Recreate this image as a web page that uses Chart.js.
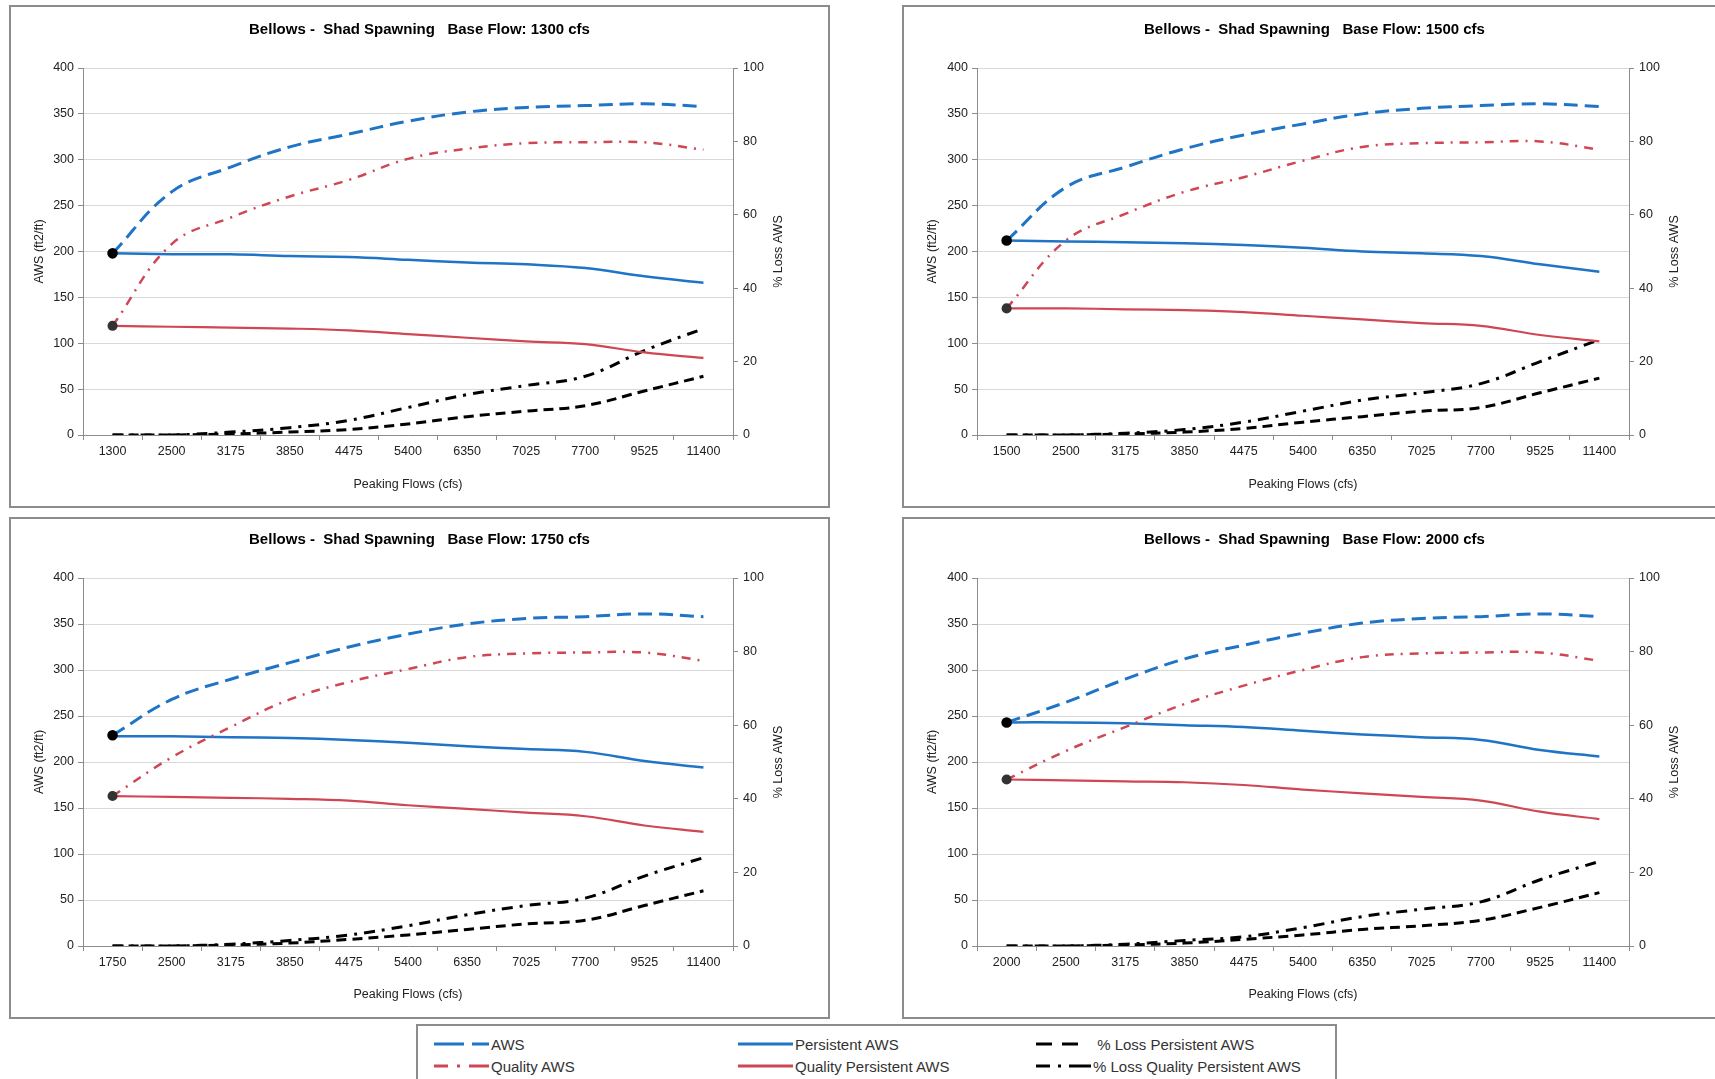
<!DOCTYPE html>
<html>
<head>
<meta charset="utf-8">
<script src="https://cdn.jsdelivr.net/npm/chart.js@4.4.1/dist/chart.umd.min.js"></script>
<style>
  html, body { margin: 0; padding: 0; width: 1715px; height: 1079px; overflow: hidden; background: #fff; }
  body { position: relative; font-family: 'Liberation Sans', Arial, sans-serif; }
  canvas { position: absolute; }
  .frame { position: absolute; border: 2px solid #8c8c8c; box-sizing: border-box; pointer-events: none; }
  #legend { position: absolute; left: 416px; top: 1024px; width: 921px; height: 80px; border: 2px solid #8c8c8c; box-sizing: border-box; }
  .item { position: absolute; height: 20px; display: flex; align-items: center; font-size: 15px; color: #333; white-space: pre; }
  .item svg { margin-right: 2px; }
</style>
</head>
<body>
<canvas id="c1300"></canvas>
<canvas id="c1500"></canvas>
<canvas id="c1750"></canvas>
<canvas id="c2000"></canvas>
<div class="frame" id="f1300"></div>
<div class="frame" id="f1500"></div>
<div class="frame" id="f1750"></div>
<div class="frame" id="f2000"></div>
<div id="legend"></div>
<script>
// peaking flows after the base flow (first category is the base flow itself)
const peakFlows = ['2500', '3175', '3850', '4475', '5400', '6350', '7025', '7700', '9525', '11400'];

// Base flow 1300 cfs
const aws1300 = [198, 265, 292, 314, 328, 342, 352, 357, 359, 361, 358];
const persistent1300 = [198, 197, 197, 195, 194, 191, 188, 186, 182, 173, 166];
const quality1300 = [119, 208, 237, 260, 278, 301, 312, 318, 319, 319, 311];
const qualityPersistent1300 = [119, 118, 117, 116, 114, 110, 106, 102, 99, 90, 84];
const lossPersistent1300 = [0, 0, 0.3, 0.8, 1.5, 3, 5, 6.5, 8, 12, 16];
const lossQuality1300 = [0, 0, 0.8, 2, 4, 7.5, 11, 13.5, 16, 23, 29];

// Base flow 1500 cfs
const aws1500 = [212, 270, 292, 312, 327, 339, 350, 356, 359, 361, 358];
const persistent1500 = [212, 211, 210, 209, 207, 204, 200, 198, 195, 186, 178];
const quality1500 = [138, 212, 241, 265, 281, 299, 314, 318, 319, 320, 311];
const qualityPersistent1500 = [138, 138, 137, 136, 134, 130, 126, 122, 119, 109, 102];
const lossPersistent1500 = [0, 0, 0.3, 0.8, 1.8, 3.5, 5, 6.5, 7.5, 11.5, 15.5];
const lossQuality1500 = [0, 0, 0.5, 1.5, 3.5, 6.5, 9.5, 11.5, 14, 20, 26];

// Base flow 1750 cfs
const aws1750 = [229, 268, 290, 308, 325, 339, 350, 356, 358, 361, 358];
const persistent1750 = [228, 228, 227, 226, 224, 221, 217, 214, 211, 201, 194];
const quality1750 = [163, 205, 238, 268, 287, 301, 314, 318, 319, 319, 310];
const qualityPersistent1750 = [163, 162, 161, 160, 158, 153, 149, 145, 141, 131, 124];
const lossPersistent1750 = [0, 0, 0.3, 0.8, 1.8, 3, 4.5, 6, 7, 11, 15];
const lossQuality1750 = [0, 0, 0.5, 1.5, 3, 5.5, 8.5, 11, 13, 19, 24];

// Base flow 2000 cfs
const aws2000 = [243, 265, 290, 312, 327, 340, 351, 356, 358, 361, 358];
const persistent2000 = [243, 243, 242, 240, 238, 234, 230, 227, 224, 213, 206];
const quality2000 = [181, 212, 238, 263, 283, 300, 314, 318, 319, 319, 310];
const qualityPersistent2000 = [181, 180, 179, 178, 175, 170, 166, 162, 158, 146, 138];
const lossPersistent2000 = [0, 0, 0.3, 0.8, 1.8, 3, 4.5, 5.5, 7, 10.5, 14.5];
const lossQuality2000 = [0, 0, 0.5, 1.5, 2.5, 5, 8, 10, 12, 18, 23];

const FONT = "'Liberation Sans', Arial, sans-serif";
const BLUE = '#1f74c6';
const RED = '#cf4654';
const AXIS = '#8c8c8c';
const GRID = '#d9d9d9';
const TEXT = '#222';

// draws the right axis title reading bottom-to-top like the left one
const rightTitle = {
    id: 'rightTitle',
    afterDraw(chart) {
        const { ctx, chartArea } = chart;
        ctx.save();
        ctx.translate(chartArea.right + 46, (chartArea.top + chartArea.bottom) / 2);
        ctx.rotate(-Math.PI / 2);
        ctx.font = '12.5px ' + FONT;
        ctx.fillStyle = TEXT;
        ctx.textAlign = 'center';
        ctx.textBaseline = 'middle';
        ctx.fillText('% Loss AWS', 0, 0);
        ctx.restore();
    }
};

function buildChart(base, aws, persistent, quality, qualityPersistent, lossPersistent, lossQuality, box) {
    const canvas = document.getElementById('c' + base);
    canvas.width = box.w;
    canvas.height = box.h;
    canvas.style.left = box.left + 'px';
    canvas.style.top = box.top + 'px';
    const frame = document.getElementById('f' + base);
    frame.style.left = box.left + 'px';
    frame.style.top = box.top + 'px';
    frame.style.width = box.w + 'px';
    frame.style.height = box.h + 'px';

    const labels = [String(base)].concat(peakFlows);
    const firstDot = labels.map((l, i) => i === 0 ? 3.8 : 0);
    const titleLine = 18;
    const titlePadTop = box.titleY - titleLine / 2;

    return new Chart(canvas, {
        type: 'line',
        data: {
            labels: labels,
            datasets: [
                {
                    label: 'AWS', data: aws, yAxisID: 'y',
                    borderColor: BLUE, borderWidth: 3, borderDash: [14, 7],
                    pointRadius: firstDot, pointBackgroundColor: '#000', pointBorderColor: '#000'
                },
                {
                    label: 'Quality AWS', data: quality, yAxisID: 'y',
                    borderColor: RED, borderWidth: 2.5, borderDash: [9, 7, 2, 7],
                    pointRadius: firstDot, pointBackgroundColor: '#333', pointBorderColor: '#333'
                },
                {
                    label: 'Persistent AWS', data: persistent, yAxisID: 'y',
                    borderColor: BLUE, borderWidth: 2.5, pointRadius: 0
                },
                {
                    label: 'Quality Persistent AWS', data: qualityPersistent, yAxisID: 'y',
                    borderColor: RED, borderWidth: 2.2, pointRadius: 0
                },
                {
                    label: '% Loss Persistent AWS', data: lossPersistent, yAxisID: 'y1',
                    borderColor: '#000', borderWidth: 3, borderDash: [10, 6], pointRadius: 0
                },
                {
                    label: '% Loss Quality Persistent AWS', data: lossQuality, yAxisID: 'y1',
                    borderColor: '#000', borderWidth: 3, borderDash: [11, 7, 3, 7], pointRadius: 0
                }
            ]
        },
        options: {
            responsive: false,
            animation: false,
            layout: { padding: 0 },
            elements: { line: { tension: 0.4, fill: false } },
            plugins: {
                legend: { display: false },
                tooltip: { enabled: false },
                title: {
                    display: true,
                    text: 'Bellows -  Shad Spawning   Base Flow: ' + base + ' cfs',
                    color: '#000',
                    font: { family: FONT, size: 15, weight: 'bold', lineHeight: titleLine / 15 },
                    padding: { top: titlePadTop, bottom: box.areaTop - titlePadTop - titleLine }
                }
            },
            scales: {
                x: {
                    offset: true,
                    grid: { drawOnChartArea: false, offset: true, tickLength: 5, tickColor: AXIS },
                    border: { color: AXIS },
                    ticks: { color: TEXT, font: { family: FONT, size: 12.5 }, padding: 4, maxRotation: 0, autoSkip: false },
                    title: { display: true, text: 'Peaking Flows (cfs)', color: TEXT, font: { family: FONT, size: 12.5 }, padding: { top: 0, bottom: box.h - box.xTitleY - 7.5 } },
                    afterFit(s) { s.height = box.h - box.areaBottom; }
                },
                y: {
                    position: 'left',
                    min: 0, max: 400,
                    grid: { color: GRID, tickColor: AXIS, tickLength: 5 },
                    border: { color: AXIS },
                    ticks: { stepSize: 50, color: TEXT, font: { family: FONT, size: 12.5 }, padding: 4 },
                    title: { display: true, text: 'AWS (ft2/ft)', color: TEXT, font: { family: FONT, size: 12.5 }, padding: { top: 23.5, bottom: 0 } },
                    afterFit(s) { s.width = box.areaLeft; }
                },
                y1: {
                    position: 'right',
                    min: 0, max: 100,
                    grid: { drawOnChartArea: false, tickColor: AXIS, tickLength: 5 },
                    border: { color: AXIS },
                    ticks: { stepSize: 20, color: TEXT, font: { family: FONT, size: 12.5 }, padding: 5 },
                    afterFit(s) { s.width = box.w - box.areaRight; }
                }
            }
        },
        plugins: [rightTitle]
    });
}

const topBox = { top: 5, h: 503, titleY: 25, areaTop: 63, areaBottom: 430, xTitleY: 480 };
const lowBox = { top: 517, h: 502, titleY: 23, areaTop: 61, areaBottom: 429, xTitleY: 478 };
const leftCol = { left: 9, w: 821, areaLeft: 74, areaRight: 724 };
const rightCol = { left: 902, w: 825, areaLeft: 75, areaRight: 727 };

buildChart(1300, aws1300, persistent1300, quality1300, qualityPersistent1300, lossPersistent1300, lossQuality1300, Object.assign({}, topBox, leftCol));
buildChart(1500, aws1500, persistent1500, quality1500, qualityPersistent1500, lossPersistent1500, lossQuality1500, Object.assign({}, topBox, rightCol));
buildChart(1750, aws1750, persistent1750, quality1750, qualityPersistent1750, lossPersistent1750, lossQuality1750, Object.assign({}, lowBox, leftCol));
buildChart(2000, aws2000, persistent2000, quality2000, qualityPersistent2000, lossPersistent2000, lossQuality2000, Object.assign({}, lowBox, rightCol));

// shared legend below the four panels
const legendItems = [
    { text: 'AWS', color: BLUE, dash: '30 8 17', x: 16, y: 8 },
    { text: 'Quality AWS', color: RED, dash: '14 9 3 9 20', x: 16, y: 30 },
    { text: 'Persistent AWS', color: BLUE, dash: '', x: 320, y: 8 },
    { text: 'Quality Persistent AWS', color: RED, dash: '', x: 320, y: 30 },
    { text: ' % Loss Persistent AWS', color: '#000', dash: '16 10 16', x: 618, y: 8 },
    { text: '% Loss Quality Persistent AWS', color: '#000', dash: '14 8 3 8 22', x: 618, y: 30 }
];
const legend = document.getElementById('legend');
legendItems.forEach(item => {
    const div = document.createElement('div');
    div.className = 'item';
    div.style.left = item.x + 'px';
    div.style.top = item.y + 'px';
    div.innerHTML = '<svg width="55" height="10"><line x1="0" y1="5" x2="55" y2="5" stroke="' + item.color +
        '" stroke-width="3"' + (item.dash ? ' stroke-dasharray="' + item.dash + '"' : '') + '/></svg>';
    div.appendChild(document.createTextNode(item.text));
    legend.appendChild(div);
});
</script>
</body>
</html>
